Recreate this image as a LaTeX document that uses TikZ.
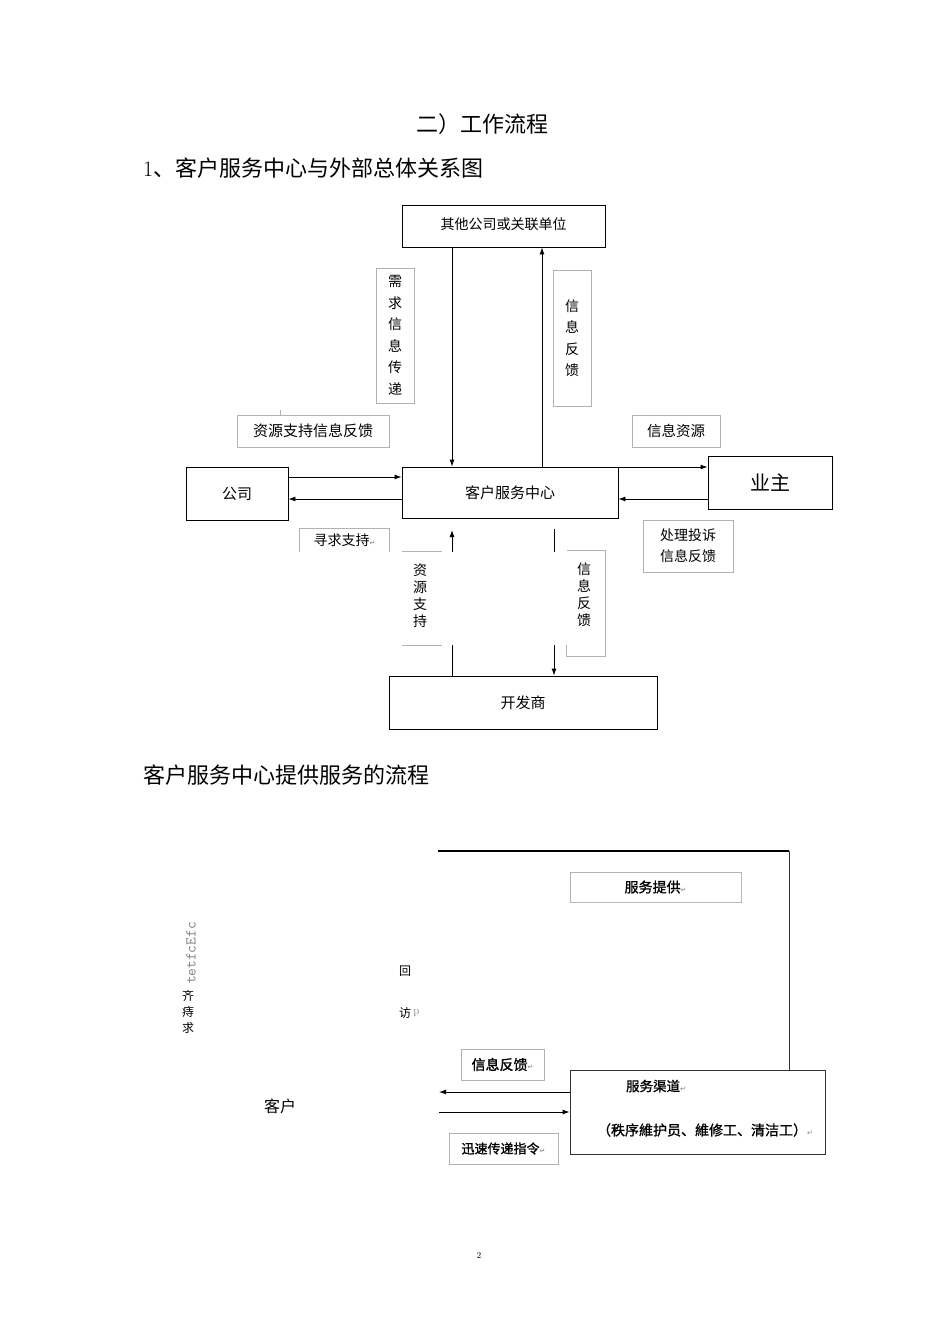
\documentclass[tikz,border=0pt]{standalone}
\usepackage{fontspec}
\newfontfamily\cjk{Noto Sans CJK SC}
\newfontfamily\cjkb[FakeBold=1.2]{Noto Sans CJK SC}
\newfontfamily\symfont{DejaVu Sans}
\usetikzlibrary{arrows.meta,positioning}
\newcommand{\retmark}{{\symfont\color{gray}\fontsize{7}{7}\selectfont ↵}}

\begin{document}
\begin{tikzpicture}[
  x=1pt,y=-1pt,
  box/.style={draw,line width=0.9pt,rectangle,inner sep=0pt,align=center,
              font=\cjk\fontsize{15}{18}\selectfont},
  lbl/.style={draw=gray!60,line width=0.8pt,rectangle,inner sep=0pt,align=center,
              font=\cjk\fontsize{14}{21}\selectfont},
  vlbl/.style={lbl,font=\cjk\fontsize{14}{21.5}\selectfont},
  slbl/.style={inner sep=0pt,align=center,font=\cjk\fontsize{14}{17}\selectfont},
  blbl/.style={lbl,font=\cjkb\fontsize{14}{16}\selectfont},
  lblline/.style={draw=gray!60,line width=0.8pt},
  btxt/.style={inner sep=0pt,font=\cjkb\fontsize{13.5}{16}\selectfont},
  head/.style={inner sep=0pt,font=\cjk\fontsize{22}{24}\selectfont},
  arr/.style={-{Latex[length=7pt,width=5pt]},line width=0.9pt},
  ln/.style={line width=0.9pt}
]
\fill[white] (0,0) rectangle (950,1344);
\useasboundingbox (0,0) rectangle (950,1344);
% Headings
\node[head] (h0) at (482,124) {二）工作流程};
\node[head,anchor=west] (h1) at (143,168) {{\rmfamily 1}、客户服务中心与外部总体关系图};
\node[head,anchor=west] (h2) at (143,775) {客户服务中心提供服务的流程};
\node[font=\fontsize{9}{10}\selectfont] (pg) at (479,1255) {2};

% Relation diagram
\node[box,minimum width=203pt,minimum height=42pt,font=\cjk\fontsize{14}{17}\selectfont]
  (oth) at (503.5,226) {\raisebox{5pt}{其他公司或关联单位}};
\node[box,minimum width=216pt,minimum height=51pt] (csc) at (510,492.5) {客户服务中心};
\node[box,minimum width=102pt,minimum height=53pt] (co) at (237,493.5) {公司};
\node[box,minimum width=124pt,minimum height=53pt,font=\cjk\fontsize{20}{22}\selectfont]
  (own) at (770,482.5) {业主};
\node[box,minimum width=268pt,minimum height=53pt] (dev) at (523,702.5) {开发商};

\node[vlbl,minimum width=38pt,minimum height=135pt] (lNeed) at (395,335.5)
  {需\\求\\信\\息\\传\\递};
\node[vlbl,minimum width=38pt,minimum height=136pt] (lFbUp) at (572,338)
  {信\\息\\反\\馈};
\node[lbl,minimum width=152pt,minimum height=32pt,font=\cjk\fontsize{15}{18}\selectfont]
  (lResFb) at (313,431) {资源支持信息反馈};
\draw[lblline] (280,410) -- (lResFb.north -| 280,0);
\node[lbl,minimum width=88pt,minimum height=32pt,font=\cjk\fontsize{14.5}{18}\selectfont]
  (lInfo) at (676,431) {信息资源};
\node[lbl,minimum width=90pt,minimum height=52pt] (lCompl) at (688,546)
  {处理投诉\\信息反馈};
\node[slbl,minimum width=89pt,minimum height=23pt] (lSeek) at (344.5,540.5)
  {寻求支持\retmark};
\draw[lblline] (lSeek.south west) |- (lSeek.north east) -- (lSeek.south east);
\node[slbl,minimum width=40pt,minimum height=94pt] (lRes) at (420,596)
  {资\\源\\支\\持};
\draw[lblline] (402,551) -- (442,551) (402,645) -- (442,645);
\node[minimum width=38pt,minimum height=105pt,inner sep=0pt] (lFbDn) at (586,603.5) {};
\node[slbl] (lFbDnT) at (584,594.5) {信\\息\\反\\馈};
\draw[lblline] ([yshift=11pt]lFbDn.south west) -- (lFbDn.south west)
  -- (lFbDn.south east) -- (lFbDn.north east) -- (lFbDn.north west);

% Arrows
\draw[arr] (oth.south -| 452,0) -- (csc.north -| 452,0);
\draw[arr] (csc.north -| 542,0) -- (oth.south -| 542,0);
\draw[arr] (co.east |- 0,477) -- (csc.west |- 0,477);
\draw[arr] (csc.west |- 0,499) -- (co.east |- 0,499);
\draw[arr] (csc.east |- 0,467) -- (own.west |- 0,467);
\draw[arr] (own.west |- 0,499) -- (csc.east |- 0,499);
\coordinate (supTip) at (452,530);
\coordinate (supHi) at (452,552);
\coordinate (supLo) at (452,645);
\draw[ln] (dev.north -| supLo) -- (supLo);
\draw[arr] (supHi) -- (supTip);
\coordinate (fbTop) at (554,529);
\coordinate (fbHi) at (554,552);
\coordinate (fbLo) at (554,645);
\draw[ln] (fbTop) -- (fbHi);
\draw[arr] (fbLo) -- (dev.north -| fbLo);

% Service flow
\node[lbl,minimum width=255pt,minimum height=84pt,draw=black!80] (chan) at (697.5,1112) {};
\node[btxt] (chanT) at (656,1086) {服务渠道\retmark};
\node[btxt,font=\cjkb\fontsize{14}{16}\selectfont] (chanS) at (705,1130)
  {（秩序維护员、維修工、清洁工）\retmark};
\node[blbl,minimum width=171pt,minimum height=30pt] (prov) at (655.5,887) {服务提供\retmark};
\draw[gray!55,line width=1.6pt] (prov.south west) -- (prov.south east) -- (prov.north east);
\node[blbl,minimum width=83pt,minimum height=31pt] (lFbB) at (502.5,1064.5) {信息反馈\retmark};
\node[blbl,minimum width=109pt,minimum height=31pt,font=\cjkb\fontsize{13}{16}\selectfont]
  (lCmd) at (503.5,1148.5) {迅速传递指令\retmark};
\node[inner sep=0pt,font=\cjk\fontsize{16}{18}\selectfont] (cust) at (280,1106) {客户};
\coordinate (custA) at (439,1092);
\coordinate (custB) at (439,1112);
\draw[arr] (chan.west |- custA) -- (custA);
\draw[arr] (custB) -- (chan.west |- custB);
\coordinate (frameL) at (438,851);
\coordinate (frameR) at (789,851);
\draw[line width=1.8pt] (frameL) -- (frameR);
\draw[line width=1pt,black!80] (frameR) -- (chan.north -| frameR);

\node[rotate=90,inner sep=0pt,text=gray,font=\ttfamily\fontsize{15}{15}\selectfont]
  (tet) at (191,953) {tetfcEfc};
\node[inner sep=0pt,align=center,font=\cjk\fontsize{12}{16}\selectfont]
  (qi) at (188,1012) {齐\\痔\\求};
\node[inner sep=0pt,font=\cjk\fontsize{12}{14}\selectfont] (hui) at (405,971) {回};
\node[inner sep=0pt,font=\cjk\fontsize{12}{14}\selectfont] (fang) at (405,1013) {访};
\node[inner sep=0pt,text=gray,font=\fontsize{11}{12}\selectfont,right=2pt of fang] (fangp) {p};
\end{tikzpicture}
\end{document}
